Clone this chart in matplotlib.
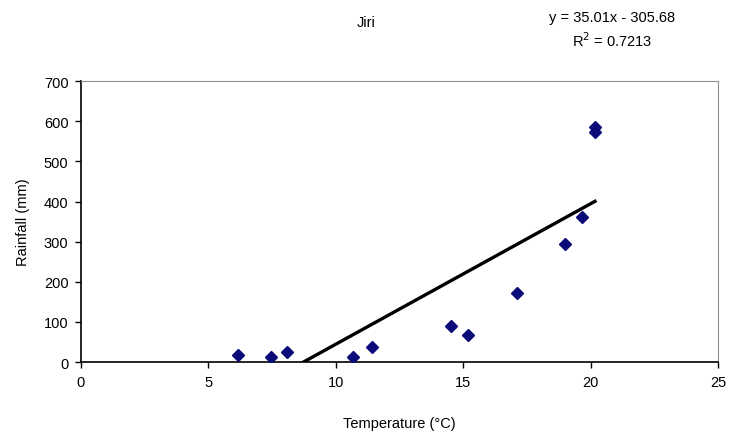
import numpy as np
import matplotlib.pyplot as plt

# monthly temperature vs rainfall at Jiri
temperature = [6.16, 7.46, 8.08, 10.67, 11.42, 14.52, 15.19, 17.11, 19.0, 19.66, 20.17, 20.17]
rainfall = [17, 12, 25, 12, 37, 90, 67, 172, 294, 361, 585, 573]

slope = 35.01
intercept = -305.68
r_squared = 0.7213

x_ticks = [0, 5, 10, 15, 20, 25]
y_ticks = [0, 100, 200, 300, 400, 500, 600, 700]

plt.rcParams['font.family'] = ['Liberation Sans', 'DejaVu Sans']

fig = plt.figure(figsize=(7.29, 4.39), dpi=100)
ax = fig.add_axes([0.111, 0.173, 0.874, 0.64])

ax.plot(temperature, rainfall, linestyle='none', marker='D', markersize=6.5,
        color='#0a0a78', zorder=3)

# linear trendline over the observed temperature range
fit_x = np.array([min(temperature), max(temperature)])
ax.plot(fit_x, slope * fit_x + intercept, color='black', linewidth=2.4, zorder=2)

ax.set_xlim(0, 25)
ax.set_ylim(0, 700)
ax.set_xticks(x_ticks)
ax.set_yticks(y_ticks)
ax.tick_params(direction='out', length=4, width=1, labelsize=10.5, pad=5)

for side in ['top', 'right']:
    ax.spines[side].set_color('#909090')
for side in ['left', 'bottom']:
    ax.spines[side].set_color('black')
    ax.spines[side].set_linewidth(1.2)

ax.set_xlabel('Temperature (°C)', fontsize=10.5, labelpad=20)
ax.set_ylabel('Rainfall (mm)', fontsize=10.5, labelpad=10)

fig.text(0.503, 0.948, 'Jiri', ha='center', va='center', fontsize=10.5)
fig.text(0.84, 0.96, 'y = %.2fx - %.2f' % (slope, -intercept), ha='center', va='center', fontsize=10.5)
fig.text(0.84, 0.908, 'R$^2$ = %.4f' % r_squared, ha='center', va='center', fontsize=10.5)

fig.savefig('out.png', dpi=100)
